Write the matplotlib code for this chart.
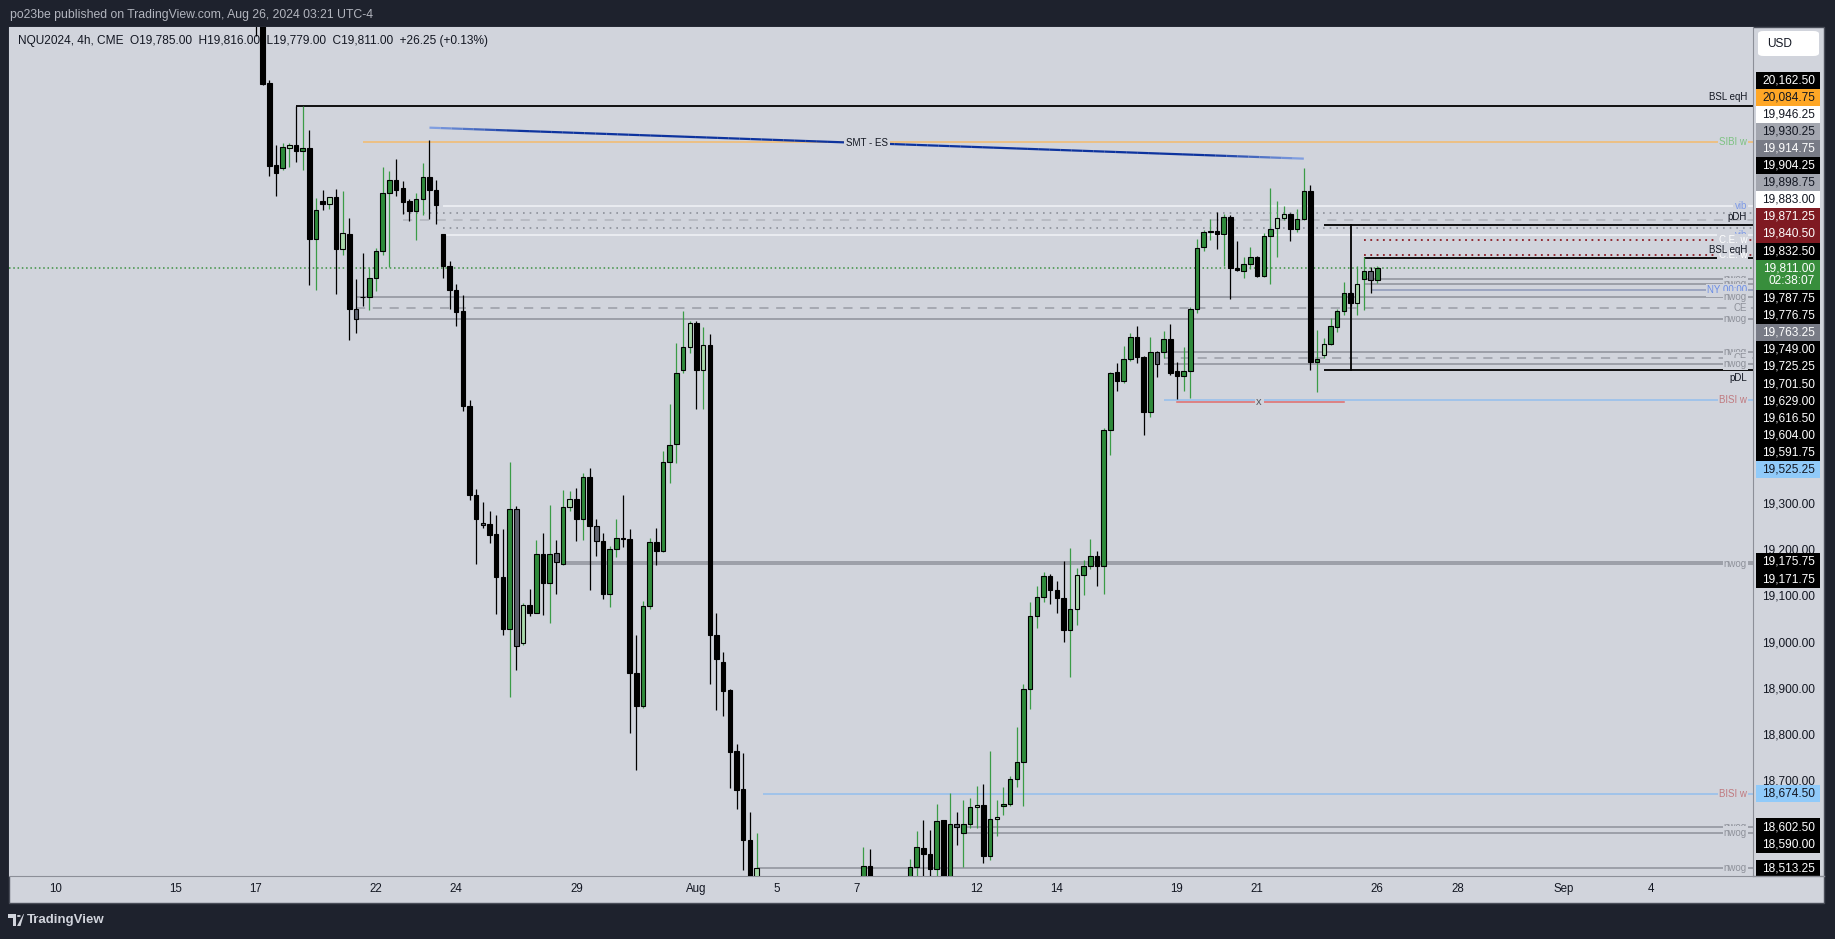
import numpy as np
import matplotlib.pyplot as plt
from matplotlib.patches import Rectangle, FancyBboxPatch, Circle, Polygon
from matplotlib.collections import LineCollection
import matplotlib.transforms as mtransforms

plt.rcParams['font.family'] = ['Liberation Sans', 'DejaVu Sans']

W, H = 1835, 939
DARK = '#1e222d'
CHART_BG = '#d1d4dc'
TXT = '#131722'

# NQU2024 4h candles, bar 0 = Wed Jul 17 02:00, last bar = Mon Aug 26 02:00 (UTC-4)
# bars 76-90 and 93-97 sit below the visible range (Aug 5-8 sell-off)
opens = [20400, 20360, 20212, 20035, 20027, 20072, 20078, 20064, 20071, 19875,
         19957, 19949, 19965, 19852, 19886, 19722, 19749, 19748, 19789, 19848,
         19974, 20002, 19984, 19957, 19934, 19961, 20008, 19981, 19886, 19816,
         19765, 19719, 19513, 19321, 19261, 19258, 19236, 19144, 19031, 19290,
         19000, 19082, 19066, 19194, 19130, 19196, 19171.75, 19295, 19313, 19269,
         19359, 19254, 19222, 19107, 19203, 19227, 19225, 18936, 18864, 19080,
         19218, 19200, 19392, 19430, 19590, 19640, 19693, 19590, 19644, 19018,
         18960, 18898, 18766, 18684, 18574, 18450, 18420, 18150, 17800, 17600,
         17500, 17950, 18000, 18200, 18250, 18200, 18100, 18300, 18200, 18300,
         18400, 18470, 18519, 18380, 18150, 18100, 18150, 18200, 18400, 18515,
         18558, 18545, 18512, 18617, 18470, 18609, 18590, 18608, 18645, 18651,
         18540, 18619, 18648, 18653, 18707, 18744, 18900, 19058, 19100, 19146,
         19116, 19097, 19029, 19073, 19147, 19168, 19189, 19167, 19462, 19586,
         19568, 19614, 19662, 19620, 19499, 19629, 19629, 19659, 19589, 19579,
         19589, 19722, 19856, 19889, 19891, 19884, 19922, 19811, 19805, 19820,
         19835, 19795, 19881, 19897, 19920, 19928, 19895, 19917, 19979, 19609,
         19623, 19647, 19684, 19718, 19757, 19735, 19787.75, 19805, 19785]
highs = [20450, 20365, 20217, 20078, 20082, 20082, 20162.5, 20162.5, 20111, 19963,
         19981, 19966, 19982, 19979, 19920, 19788, 19844, 19811, 19855, 20031,
         20022, 20048, 20000, 19961, 19974, 20039, 20089, 20002, 19886, 19827,
         19777, 19753, 19526, 19334, 19305, 19286, 19277, 19247, 19392, 19297,
         19087, 19117, 19223, 19238, 19299, 19223, 19331, 19330, 19336, 19368,
         19379, 19269, 19238, 19210, 19269, 19321, 19247, 19017, 19091, 19228,
         19249, 19416, 19518, 19650, 19719, 19696, 19696, 19684, 19669, 19065,
         18980, 18900, 18783, 18762, 18635, 18589, 18440, 18200, 17900, 17700,
         18000, 18150, 18250, 18300, 18350, 18300, 18350, 18400, 18350, 18450,
         18480, 18559, 18556, 18420, 18250, 18200, 18250, 18400, 18533, 18593,
         18617, 18596, 18652, 18618, 18676, 18634, 18660, 18666, 18691, 18695,
         18766, 18660, 18689, 18713, 18819, 18911, 19090, 19124, 19154, 19150,
         19134, 19178, 19206, 19163, 19180, 19225, 19199, 19465, 19587, 19606,
         19643, 19670, 19686, 19621, 19663, 19633, 19676, 19690, 19608, 19641,
         19728, 19875, 19893, 19918, 19933, 19929, 19926, 19870, 19835, 19857,
         19838, 19887, 19985, 19957, 19946, 19930, 19940, 20028, 19990, 19678,
         19660, 19703, 19722, 19782, 19760, 19815, 19835, 19813, 19816]
lows = [20314, 20208, 20011, 19968, 20024, 20029, 20040, 20023, 19775, 19763,
        19937, 19940, 19756, 19839, 19656, 19672, 19730, 19721, 19761, 19840,
        19813, 19968, 19929, 19914, 19871, 19927, 19918, 19906, 19789, 19723,
        19687, 19502, 19310, 19171, 19249, 19217, 19064, 19018, 18884, 18942,
        18996, 19059, 19066, 19062, 19043, 19107, 19170, 19287, 19222, 19224,
        19116, 19189, 19096, 19079, 19187, 19209, 18805, 18725, 18860, 19075,
        19170, 19198, 19347, 19389, 19585, 19627, 19506, 19506, 18912, 18855,
        18842, 18687, 18641, 18510, 18420, 18430, 18100, 17700, 17450, 17150,
        17450, 17900, 17950, 18100, 18150, 18000, 18050, 18150, 18150, 18250,
        18350, 18450, 18360, 18100, 18050, 18050, 18100, 18150, 18380, 18490,
        18490, 18490, 18480, 18440, 18460, 18563, 18516, 18600, 18600, 18525,
        18531, 18583, 18628, 18648, 18689, 18648, 18858, 19034, 19090, 19084,
        19066, 19002, 18927, 19040, 19104, 19161, 19124, 19107, 19407, 19546,
        19563, 19610, 19607, 19450, 19489, 19575, 19617, 19580, 19527.5, 19546,
        19531, 19715, 19849, 19872, 19853, 19815, 19745, 19805, 19789, 19810,
        19793, 19793, 19776, 19836, 19916, 19869, 19890, 19915, 19590, 19544,
        19616, 19644, 19674, 19709, 19730, 19709, 19720, 19758.5, 19779]
closes = [20360, 20210, 20033, 20018, 20073, 20077, 20064, 20071, 19875, 19937,
          19949, 19965, 19852, 19887, 19722, 19701.5, 19748, 19790, 19848, 19974,
          20002, 19981, 19955, 19934, 19961, 20008, 19981, 19947, 19816, 19765,
          19717, 19512, 19321, 19269, 19256, 19235, 19144, 19031, 19290, 18994,
          19082, 19066, 19194, 19130, 19194, 19175.75, 19295, 19313, 19269, 19359,
          19254, 19222, 19107, 19203, 19227, 19225, 18936, 18864, 19080, 19218,
          19200, 19392, 19428, 19584, 19640, 19693, 19590, 19646, 19017, 18966,
          18896, 18764, 18682, 18574, 18450, 18513.25, 18150, 17800, 17600, 17500,
          17950, 18000, 18200, 18250, 18200, 18100, 18300, 18200, 18300, 18400,
          18470, 18519, 18380, 18150, 18100, 18150, 18200, 18380, 18515, 18559,
          18545, 18512, 18615, 18470, 18608, 18602.5, 18608, 18645, 18651, 18540,
          18619, 18625, 18653, 18707, 18744, 18900, 19058, 19100, 19146, 19116,
          19097, 19029, 19073, 19147, 19168, 19189, 19167, 19462, 19584, 19568,
          19614, 19662, 19620, 19499, 19629, 19604, 19659, 19585, 19579, 19589,
          19722.5, 19855, 19889, 19891, 19884, 19922, 19811, 19807, 19820, 19835,
          19795, 19881, 19896, 19919.5, 19928, 19895, 19917, 19978, 19609, 19614,
          19647, 19686, 19718, 19757, 19735, 19776.75, 19805, 19785, 19811]
pale_bars = [5, 11, 13, 40, 47, 65, 67, 75, 108, 111, 123, 153, 154, 160, 165]
grey_bars = [15, 34, 39, 45, 51, 105, 135, 167]

# time axis (bar index of the first bar of each labelled day)
tick_bars = [-30, -12, 0, 18, 30, 48, 66, 78, 90, 108, 120, 138, 150, 168, 180, 196, 209]
tick_labels = ['10', '15', '17', '22', '24', '29', 'Aug', '5', '7', '12', '14', '19',
               '21', '26', '28', 'Sep', '4']

# horizontal levels: price, first bar, kind
level_prices = [20162.5, 20084.75, 19946.25, 19930.25, 19914.75, 19904.25, 19898.75,
                19883.0, 19871.25, 19840.5, 19832.5, 19787.75, 19776.75, 19763.25,
                19749.0, 19725.25, 19701.5, 19629.0, 19616.5, 19604.0, 19591.75,
                19525.25, 19175.75, 19171.75, 18674.5, 18602.5, 18590.0, 18513.25]
level_starts = [6, 16, 28, 22, 22, 160, 28, 28, 166, 166, 166, 166, 166, 167,
                15, 15, 15, 136, 136, 136, 160, 136, 46, 46, 76, 106, 106, 75]
level_kinds = ['bsl', 'sibi', 'vib', 'vibdot', 'vibce', 'pd', 'vibdot', 'vib', 'cew', 'cew',
               'bsl', 'nwog', 'nwog', 'ny', 'nwog', 'ce', 'nwog', 'nwog', 'ce', 'nwog',
               'pd', 'bisi', 'nwog', 'nwog', 'bisi', 'nwog', 'nwog', 'nwog']

# tags written at the right end of the levels
tag_prices = [20162.5, 20084.75, 19946.25, 19904.25, 19883.0, 19871.25, 19840.5, 19832.5,
              19787.75, 19776.75, 19763.25, 19749.0, 19725.25, 19701.5, 19629.0, 19616.5,
              19604.0, 19591.75, 19525.25, 19175.75, 19171.75, 18674.5, 18602.5, 18590.0,
              18513.25]
tag_texts = ['BSL eqH', 'SIBI w', 'vib', 'pDH', 'vib', 'C.E. w', 'C.E. w', 'BSL eqH',
             'nwog', 'nwog', 'NY 00:00', 'nwog', 'CE', 'nwog', 'nwog', 'CE', 'nwog', 'pDL',
             'BISI w', 'nwog', 'nwog', 'BISI w', 'nwog', 'nwog', 'nwog']
tag_places = ['above', 'on', 'on', 'above', 'on', 'on', 'on', 'above', 'on', 'on', 'on',
              'on', 'on', 'on', 'on', 'on', 'on', 'below', 'on', 'on', 'on', 'on', 'on',
              'on', 'on']

# labels on the price scale
label_prices = [20162.5, 20084.75, 19946.25, 19930.25, 19914.75, 19904.25, 19898.75,
                19883.0, 19871.25, 19840.5, 19832.5, 19787.75, 19776.75, 19763.25,
                19749.0, 19725.25, 19701.5, 19629.0, 19616.5, 19604.0, 19591.75,
                19525.25, 19175.75, 19171.75, 18674.5, 18602.5, 18590.0, 18513.25]
label_kinds = ['black', 'orange', 'white', 'grey', 'dgrey', 'black', 'grey', 'white',
               'red', 'red', 'black', 'black', 'black', 'dgrey', 'black', 'black', 'black',
               'black', 'black', 'black', 'black', 'blue', 'black', 'black', 'blue',
               'black', 'black', 'black']
last_price = 19811.00
countdown = '02:38:07'
axis_ticks = [18700, 18800, 18900, 19000, 19100, 19200, 19300]

smt_bars = [26, 157]
smt_prices = [20115, 20048]
sweep_bars = [138, 163]
sweep_price = 19521

# ---------------------------------------------------------------- layout
fig = plt.figure(figsize=(W / 100, H / 100), dpi=100)
fig.patch.set_facecolor(DARK)


def fx(px):
    return px / W


def fy(py):
    return 1 - py / H


# light chart panel
fig.add_artist(Rectangle((fx(9), fy(903)), fx(1824) - fx(9), fy(27) - fy(903),
                         transform=fig.transFigure, facecolor=CHART_BG,
                         edgecolor='#4a4e59', lw=1, zorder=0))

ax = fig.add_axes([fx(9), fy(876), fx(1753) - fx(9), fy(27) - fy(876)])
pax = fig.add_axes([fx(1753), fy(876), fx(1824) - fx(1753), fy(27) - fy(876)])

xmin, xmax = -37.0, 224.3
ymin, ymax = 18496.6, 20332.7
ax.set_xlim(xmin, xmax)
ax.set_ylim(ymin, ymax)
ax.set_facecolor(CHART_BG)
for s in ['top', 'left']:
    ax.spines[s].set_visible(False)
ax.spines['right'].set_color('#8c8f98')
ax.spines['bottom'].set_color('#8c8f98')
ax.set_yticks([])
ax.set_xticks(tick_bars, tick_labels)
ax.tick_params(axis='x', length=0, pad=5, labelsize=8.3, labelcolor=TXT)

ppx = (876 - 27) / (ymax - ymin)   # pixels per point

# ---------------------------------------------------------------- levels
styles = {
    'nwog': dict(color='#8e919a', lw=1.1, ls='-'),
    'ce': dict(color='#9a9da6', lw=1.1, ls=(0, (6, 5))),
    'bsl': dict(color='#000000', lw=1.3, ls='-'),
    'pd': dict(color='#000000', lw=1.3, ls='-'),
    'sibi': dict(color='#f4bb6c', lw=1.1, ls='-'),
    'vib': dict(color='#eceef3', lw=1.3, ls='-'),
    'vibdot': dict(color='#8c9099', lw=1.2, ls=(0, (1, 3))),
    'vibce': dict(color='#b1b4bc', lw=1.1, ls=(0, (6, 5))),
    'cew': dict(color='#8b1c24', lw=1.3, ls=(0, (1, 2.5))),
    'bisi': dict(color='#93bfee', lw=1.1, ls='-'),
    'ny': dict(color='#8d97b8', lw=1.1, ls='-'),
}
for p, s, k in zip(level_prices, level_starts, level_kinds):
    ax.plot([s, xmax], [p, p], zorder=2, solid_capstyle='butt', **styles[k])

# previous-day range connector
pdh, pdl = level_prices[5], level_prices[20]
ax.plot([164, 164], [pdl, pdh], color='#000000', lw=1.3, zorder=2)

# current price line
ax.axhline(last_price, color='#3d9142', lw=1.1, ls=(0, (1, 1.8)), zorder=2)

# swept level with marker
ax.plot(sweep_bars, [sweep_price, sweep_price], color='#e06b6b', lw=1.1, zorder=2)
ax.text(np.mean(sweep_bars) - 0.2, sweep_price, 'x', fontsize=8, color='#55585f',
        ha='center', va='center', zorder=6,
        bbox=dict(facecolor=CHART_BG, edgecolor='none', pad=1.2))

# SMT line with faded ends
xs = np.linspace(smt_bars[0], smt_bars[1], 80)
ys = np.interp(xs, smt_bars, smt_prices)
pts = np.column_stack([xs, ys])
segs = np.stack([pts[:-1], pts[1:]], axis=1)
t = np.linspace(0, 1, len(segs))
fade = np.clip(np.minimum(t, 1 - t) / 0.1, 0, 1)
light = np.array([0.50, 0.62, 0.88])
dark = np.array([0.05, 0.20, 0.62])
cols = light + (dark - light) * fade[:, None]
ax.add_collection(LineCollection(segs, colors=cols, lw=1.6, zorder=5))
ax.text(np.mean(smt_bars), np.mean(smt_prices), 'SMT - ES', fontsize=7, color=TXT,
        ha='center', va='center', zorder=6,
        bbox=dict(facecolor=CHART_BG, edgecolor='none', pad=1.5))

# ---------------------------------------------------------------- candles
o = np.array(opens, float)
hi = np.array(highs, float)
lo = np.array(lows, float)
c = np.array(closes, float)
x = np.arange(len(o))
kind = np.where(c >= o, 'up', 'down').astype(object)
kind[pale_bars] = 'pale'
kind[grey_bars] = 'grey'
fill = {'up': '#2f8b3b', 'down': '#000000', 'pale': '#a8d8aa', 'grey': '#5d606b'}
wick = {'up': '#3a9c46', 'down': '#000000', 'pale': '#3a9c46', 'grey': '#000000'}
ax.vlines(x, lo, hi, colors=[wick[k] for k in kind], lw=0.9, zorder=3)
body_h = np.maximum(np.abs(c - o), 0.6)
ax.bar(x, body_h, bottom=np.minimum(o, c), width=0.68,
       color=[fill[k] for k in kind], edgecolor='#000000', linewidth=0.8, zorder=4)

# ---------------------------------------------------------------- tags at right edge
bt = mtransforms.blended_transform_factory(ax.transAxes, ax.transData)
tag_colors = {'BSL eqH': TXT, 'pDH': TXT, 'pDL': TXT, 'SIBI w': '#7dc282',
              'vib': '#7e9ae6', 'C.E. w': '#ffffff', 'NY 00:00': '#6b8de6',
              'BISI w': '#c07a80', 'nwog': '#8e919a', 'CE': '#8e919a'}
tx = 1 - 6 / (1753 - 9)
for p, s, where in zip(tag_prices, tag_texts, tag_places):
    if where == 'on':
        ax.text(tx, p, s, transform=bt, fontsize=7, color=tag_colors[s], ha='right',
                va='center', zorder=6,
                bbox=dict(facecolor=CHART_BG, edgecolor='none', pad=1.0))
    else:
        off = 8.5 / ppx if where == 'above' else -8.5 / ppx
        ax.text(tx, p + off, s, transform=bt, fontsize=7, color=tag_colors[s],
                ha='right', va='center', zorder=6)

# legend line
ax.text((18 - 9) / (1753 - 9), 1 - (41 - 27) / (876 - 27),
        'NQU2024, 4h, CME  O19,785.00  H19,816.00  L19,779.00  C19,811.00  +26.25 (+0.13%)',
        transform=ax.transAxes, fontsize=8.6, color=TXT, ha='left', va='center', zorder=1)

# ---------------------------------------------------------------- price scale
pax.set_xlim(0, 71)
pax.set_ylim(ymin, ymax)
pax.set_facecolor(CHART_BG)
pax.axis('off')
for tk in axis_ticks:
    pax.text(62, tk, f'{tk:,.2f}', fontsize=8.6, color=TXT, ha='right', va='center', zorder=1)

schemes = {'black': ('#000000', '#ffffff'), 'white': ('#ffffff', TXT),
           'grey': ('#a3a6af', TXT), 'dgrey': ('#787b86', '#ffffff'),
           'red': ('#7f1a22', '#ffffff'), 'orange': ('#ffa726', TXT),
           'blue': ('#90caf9', TXT)}
lab_h = 17.1 / ppx
cur_top = last_price + 8.6 / ppx
cur_bot = cur_top - 30.4 / ppx
pos = {}
lim = cur_top
for p in sorted(p for p in label_prices if p > last_price):
    cy = max(p, lim + lab_h / 2)
    pos[p] = cy
    lim = cy + lab_h / 2
lim = cur_bot
for p in sorted((p for p in label_prices if p < last_price), reverse=True):
    cy = min(p, lim - lab_h / 2)
    pos[p] = cy
    lim = cy - lab_h / 2

for p, k in zip(label_prices, label_kinds):
    bg, fg = schemes[k]
    cy = pos[p]
    pax.add_patch(Rectangle((2.5, cy - lab_h / 2), 64.5, lab_h, facecolor=bg,
                            edgecolor='none', zorder=3))
    pax.text(62, cy, f'{p:,.2f}', fontsize=8.6, color=fg, ha='right', va='center', zorder=4)

pax.add_patch(Rectangle((2.5, cur_bot), 64.5, cur_top - cur_bot, facecolor='#388e3c',
                        edgecolor='none', zorder=3))
pax.text(62, last_price, f'{last_price:,.2f}', fontsize=8.6, color='#ffffff',
         ha='right', va='center', zorder=4)
pax.text(62, last_price - 13 / ppx, countdown, fontsize=8.6, color='#ffffff',
         ha='right', va='center', zorder=4)

# time axis separator across the price scale too
fig.add_artist(plt.Line2D([fx(1753), fx(1824)], [fy(876), fy(876)], color='#8c8f98',
                          lw=1, transform=fig.transFigure))

# currency box
fig.add_artist(FancyBboxPatch((fx(1758), fy(56)), fx(1819) - fx(1758), fy(31) - fy(56),
                              boxstyle='round,pad=0,rounding_size=0.003',
                              transform=fig.transFigure, facecolor='#ffffff',
                              edgecolor='none', zorder=5))
fig.text(fx(1767), fy(44), 'USD', fontsize=8.6, color=TXT, ha='left', va='center', zorder=6)

# ---------------------------------------------------------------- header / footer
fig.text(fx(10), fy(15), 'po23be published on TradingView.com, Aug 26, 2024 03:21 UTC-4',
         fontsize=8.8, color='#b2b5be', ha='left', va='center')

logo = '#d1d4dc'
fig.add_artist(Polygon([(fx(8), fy(914)), (fx(16), fy(914)), (fx(16), fy(926)),
                        (fx(12.5), fy(926)), (fx(12.5), fy(917.5)), (fx(8), fy(917.5))],
                       closed=True, transform=fig.transFigure, facecolor=logo,
                       edgecolor='none'))
fig.add_artist(Circle((fx(18.8), fy(916)), 1.9 / W, transform=fig.transFigure,
                      facecolor=logo, edgecolor='none'))
fig.add_artist(Polygon([(fx(17), fy(926)), (fx(20.5), fy(926)), (fx(24), fy(914)),
                        (fx(23.5), fy(914))], closed=True, transform=fig.transFigure,
                       facecolor=logo, edgecolor='none'))
fig.text(fx(27), fy(920), 'TradingView', fontsize=9.5, color=logo, fontweight='bold',
         ha='left', va='center')

fig.savefig('out.png', dpi=100, facecolor=DARK)
